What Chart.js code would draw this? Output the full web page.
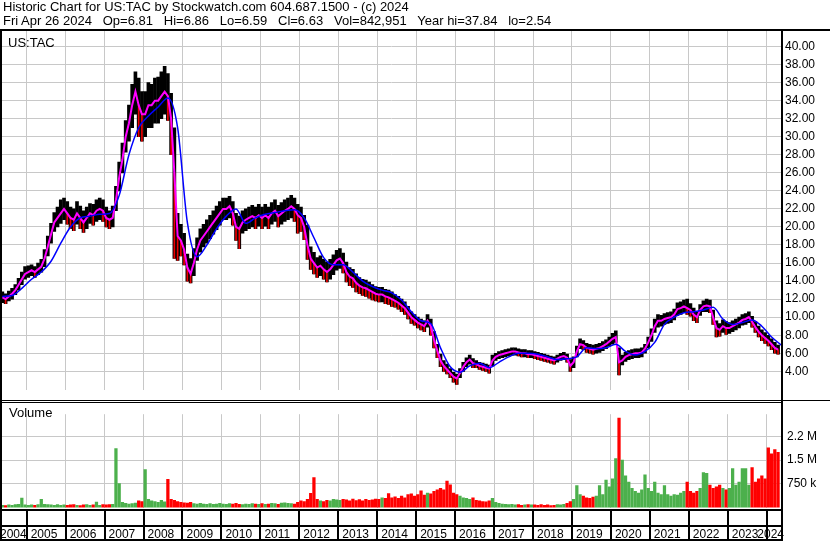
<!DOCTYPE html>
<html>
<head>
<meta charset="utf-8">
<script src="https://cdn.jsdelivr.net/npm/chart.js@4"></script>
<style>
  html, body { margin: 0; padding: 0; background: #fff; }
  #wrap { position: relative; width: 830px; height: 543px; overflow: hidden; font-family: "Liberation Sans", Arial, sans-serif; }
  .hdr { position: absolute; left: 3px; font-size: 13px; line-height: 14px; color: #000; white-space: pre; }
  #priceBox { position: absolute; left: 0; top: 0; width: 830px; height: 401px; }
  #volBox { position: absolute; left: 0; top: 401px; width: 830px; height: 142px; }
</style>
</head>
<body>
<div id="wrap">
  <div id="priceBox"><canvas id="priceChart" width="830" height="401"></canvas></div>
  <div id="volBox"><canvas id="volChart" width="830" height="142"></canvas></div>
  <div class="hdr" style="top:0px">Historic Chart for US:TAC by Stockwatch.com 604.687.1500 - (c) 2024</div>
  <div class="hdr" style="top:14px">Fri Apr 26 2024   Op=6.81   Hi=6.86   Lo=6.59   Cl=6.63   Vol=842,951   Year hi=37.84   lo=2.54</div>
</div>
<script>
// monthly bars, May 2004 .. Apr 2024
const mid = [
  12.2, 12.0, 12.3, 12.6, 13.0, 13.6, 14.2, 14.8,
  15.0, 15.2, 15.0, 15.3, 15.6, 16.5, 17.8, 19.2, 20.5, 21.0, 21.5, 22.0,
  21.5, 21.0, 20.8, 21.5, 21.0, 20.5, 21.0, 21.5, 21.3, 21.8, 22.0, 21.8,
  21.0, 20.8, 21.0, 23.0, 25.5, 27.5, 30.0, 31.5, 33.5, 35.0, 33.5, 32.5,
  32.5, 33.5, 33.5, 34.0, 34.0, 34.5, 35.0, 34.5, 32.0, 26.0, 19.0, 18.5,
  17.5, 15.5, 14.8, 16.0, 17.5, 18.5, 19.0, 19.5, 20.0, 20.5, 21.0, 21.5,
  22.0, 22.0, 22.3, 21.5, 20.0, 19.8, 20.5, 20.8, 21.0, 21.2, 21.0, 21.3,
  21.0, 21.3, 21.0, 21.5, 21.8, 21.2, 21.5, 21.8, 22.0, 22.3, 22.0, 21.3,
  21.0, 20.0, 18.0, 16.5, 16.0, 15.5, 15.7, 15.3, 15.0, 15.3, 15.8, 16.3,
  16.5, 16.0, 15.0, 14.5, 14.3, 13.8, 13.5, 13.3, 13.2, 13.0, 12.8, 12.6,
  12.5, 12.5, 12.3, 12.2, 12.0, 11.8, 11.6, 11.3, 11.0, 10.5, 10.0, 9.7,
  9.4, 9.2, 9.0, 9.6, 9.0, 7.5, 6.3, 5.2, 4.6, 4.2, 3.8, 3.4,
  3.2, 3.8, 4.5, 5.0, 5.3, 4.9, 4.8, 4.6, 4.5, 4.4, 4.3, 5.2,
  5.6, 5.8, 5.9, 6.0, 6.1, 6.2, 6.2, 6.1, 6.0, 6.0, 5.9, 5.9,
  5.8, 5.7, 5.6, 5.5, 5.4, 5.3, 5.2, 5.4, 5.6, 5.7, 5.5, 4.6,
  5.0, 6.2, 7.0, 6.9, 6.6, 6.5, 6.4, 6.5, 6.6, 6.8, 7.0, 7.3,
  7.6, 7.8, 5.0, 5.2, 5.6, 5.8, 5.9, 6.0, 6.0, 6.1, 6.5, 7.2,
  8.0, 9.0, 9.6, 9.6, 9.8, 9.9, 10.0, 10.3, 10.9, 11.0, 11.2, 11.0,
  10.8, 10.3, 10.0, 10.8, 11.2, 11.3, 11.2, 10.0, 8.8, 8.6, 9.0, 8.8,
  8.8, 9.0, 9.2, 9.4, 9.7, 9.8, 10.0, 9.5, 8.9, 8.4, 8.0, 7.7,
  7.4, 7.0, 6.6, 6.4
];
const hi = [
  12.8, 12.6, 12.9, 13.2, 13.6, 14.3, 15.0, 15.6,
  15.7, 15.8, 15.6, 16.0, 16.4, 17.5, 19.0, 20.4, 21.6, 22.2, 23.0, 23.2,
  22.8, 22.2, 22.0, 22.8, 22.3, 21.8, 22.2, 22.6, 22.5, 23.0, 23.2, 23.0,
  22.2, 21.8, 22.3, 24.5, 27.2, 29.3, 31.8, 33.5, 35.8, 37.2, 36.5, 35.0,
  35.0, 36.0, 35.8, 36.5, 36.6, 37.2, 37.8, 37.0, 34.8, 31.0, 21.5, 20.3,
  19.3, 17.0, 16.5, 17.6, 18.8, 19.8, 20.3, 20.8, 21.3, 21.8, 22.3, 22.8,
  23.2, 23.2, 23.4, 22.8, 21.5, 21.2, 21.8, 22.0, 22.2, 22.4, 22.2, 22.5,
  22.2, 22.5, 22.2, 22.7, 23.0, 22.4, 22.7, 23.0, 23.2, 23.5, 23.2, 22.5,
  22.2, 21.3, 20.2, 17.8, 17.2, 16.6, 16.8, 16.4, 16.1, 16.4, 16.9, 17.4,
  17.6, 17.1, 16.1, 15.5, 15.3, 14.8, 14.4, 14.2, 14.1, 13.9, 13.6, 13.4,
  13.3, 13.3, 13.1, 13.0, 12.8, 12.5, 12.3, 12.0, 11.7, 11.2, 10.6, 10.3,
  10.0, 9.8, 9.6, 10.3, 9.8, 8.4, 7.0, 5.9, 5.2, 4.8, 4.3, 3.9,
  3.7, 4.3, 5.0, 5.5, 5.8, 5.4, 5.2, 5.0, 4.9, 4.8, 4.7, 5.8,
  6.0, 6.2, 6.3, 6.4, 6.5, 6.6, 6.6, 6.5, 6.4, 6.4, 6.3, 6.3,
  6.2, 6.1, 6.0, 5.9, 5.8, 5.7, 5.6, 5.8, 6.0, 6.1, 5.9, 5.3,
  5.6, 6.8, 7.6, 7.4, 7.1, 7.0, 6.9, 7.0, 7.1, 7.3, 7.5, 7.8,
  8.2, 8.5, 6.6, 5.8, 6.1, 6.3, 6.4, 6.5, 6.5, 6.6, 7.0, 7.8,
  8.7, 9.8, 10.3, 10.2, 10.4, 10.5, 10.6, 10.9, 11.6, 11.7, 11.9, 12.0,
  11.5, 11.0, 10.6, 11.4, 11.8, 12.0, 11.9, 10.8, 9.6, 9.3, 9.7, 9.5,
  9.4, 9.6, 9.8, 10.0, 10.3, 10.4, 10.6, 10.1, 9.5, 9.0, 8.6, 8.3,
  8.0, 7.6, 7.2, 6.9
];
const lo = [
  11.6, 11.5, 11.8, 12.0, 12.5, 13.0, 13.6, 14.2,
  14.4, 14.6, 14.4, 14.7, 15.0, 15.6, 16.8, 18.2, 19.5, 20.0, 20.4, 20.8,
  20.3, 19.8, 19.6, 20.3, 19.8, 19.4, 19.8, 20.4, 20.2, 20.6, 20.8, 20.6,
  20.0, 19.8, 20.0, 21.8, 24.0, 26.0, 28.3, 29.5, 31.0, 32.5, 30.0, 29.5,
  30.0, 31.0, 31.0, 31.5, 31.5, 32.0, 32.5, 31.8, 28.0, 16.5, 16.3, 16.8,
  15.8, 14.0, 13.8, 14.6, 16.3, 17.2, 17.8, 18.2, 18.7, 19.2, 19.7, 20.2,
  20.8, 20.8, 21.0, 20.2, 18.5, 17.6, 19.3, 19.6, 19.8, 20.0, 19.8, 20.1,
  19.8, 20.1, 19.8, 20.3, 20.6, 20.0, 20.3, 20.6, 20.8, 21.0, 20.6, 19.3,
  19.5, 18.6, 16.4, 15.3, 14.8, 14.4, 14.6, 14.2, 13.9, 14.2, 14.7, 15.2,
  15.4, 14.9, 13.9, 13.5, 13.3, 12.8, 12.6, 12.4, 12.3, 12.1, 11.9, 11.8,
  11.7, 11.7, 11.5, 11.4, 11.2, 11.1, 10.9, 10.6, 10.3, 9.8, 9.3, 9.1,
  8.8, 8.6, 8.4, 8.9, 8.0, 6.6, 5.5, 4.5, 4.0, 3.7, 3.3, 2.8,
  2.54, 3.3, 4.0, 4.5, 4.8, 4.4, 4.4, 4.2, 4.1, 4.0, 3.8, 4.6,
  5.2, 5.4, 5.5, 5.6, 5.7, 5.8, 5.8, 5.7, 5.6, 5.6, 5.5, 5.5,
  5.4, 5.3, 5.2, 5.1, 5.0, 4.9, 4.8, 5.0, 5.2, 5.3, 5.0, 4.0,
  4.4, 5.6, 6.5, 6.4, 6.1, 6.0, 5.9, 6.0, 6.1, 6.3, 6.5, 6.8,
  7.0, 7.2, 3.6, 4.7, 5.1, 5.3, 5.4, 5.5, 5.5, 5.6, 6.0, 6.6,
  7.3, 8.3, 8.9, 9.0, 9.2, 9.3, 9.4, 9.7, 10.2, 10.3, 10.5, 10.3,
  10.1, 9.6, 9.4, 10.2, 10.6, 10.6, 10.5, 9.2, 7.8, 7.9, 8.3, 8.1,
  8.2, 8.4, 8.6, 8.8, 9.1, 9.2, 9.4, 8.9, 8.3, 7.8, 7.4, 7.1,
  6.8, 6.4, 6.0, 5.9
];
// slow average (blue), quarterly from May 2004
const slow = [
  12.3, 12.4, 13.2, 14.2, 15.0, 16.2, 18.2, 20.0, 21.0, 21.2,
  21.4, 21.5, 23.5, 28.0, 31.0, 32.3, 33.3, 34.3, 31.0, 20.5,
  16.7, 18.0, 19.8, 21.2, 22.0, 20.4, 21.0, 21.4, 21.6, 21.8,
  21.9, 21.0, 18.8, 16.6, 15.8, 15.8, 15.0, 14.0, 13.4, 13.0,
  12.7, 11.9, 10.6, 9.6, 9.3, 6.6, 4.5, 3.9, 4.6, 4.9,
  4.4, 5.0, 5.6, 6.0, 6.0, 5.9, 5.6, 5.3, 5.4, 5.6,
  6.6, 6.5, 6.6, 7.0, 6.2, 5.8, 6.2, 7.2, 9.2, 10.0,
  10.5, 10.6, 10.8, 11.1, 9.8, 9.2, 9.4, 9.7, 9.0, 7.8,
  6.9
];
// volume in thousands, monthly
const vol = [
  60, 50, 70, 60, 80, 90, 290, 70,
  60, 70, 60, 80, 250, 90, 80, 70, 60, 80, 60, 70,
  60, 70, 80, 60, 50, 70, 80, 60, 70, 160, 60, 80,
  70, 80, 90, 1870, 750, 150, 120, 100, 110, 130, 200, 180,
  1200, 250, 200, 180, 150, 220, 170, 890, 250, 220, 180, 150,
  140, 130, 150, 110, 100, 120, 100, 90, 110, 90, 100, 120,
  100, 90, 110, 100, 120, 90, 80, 100, 90, 110, 100, 90,
  110, 90, 100, 120, 110, 90, 130, 140, 120, 110, 100, 150,
  200, 180, 250, 440, 940, 250, 200, 180, 220, 200, 250, 230,
  220, 250, 230, 200, 260, 210, 240, 200, 250, 220, 230, 260,
  250, 300, 280, 430, 300, 330, 280, 350, 300, 400, 420, 350,
  400, 520, 380, 450, 420, 500, 550, 600, 550, 830, 710, 450,
  400, 350, 300, 280, 250, 300, 220, 200, 180, 170, 200, 280,
  150, 120, 100, 90, 80, 90, 70, 80, 60, 70, 80, 70,
  70, 60, 80, 60, 70, 50, 60, 80, 70, 90, 120, 180,
  250, 690, 400, 350, 300, 280, 320, 350, 690, 400, 860, 650,
  900, 1550, 2840, 1500, 1000, 800, 600, 500, 450, 550, 1030, 600,
  500, 800, 450, 400, 690, 400, 350, 400, 380, 450, 500, 800,
  500, 450, 500, 600, 1100, 1080, 700, 600, 650, 700, 600, 550,
  600, 1230, 700, 800, 1230, 1230, 700, 1260, 800, 900, 1000, 900,
  1890, 1700, 1840, 1750
];
const years = [2005, 2006, 2007, 2008, 2009, 2010, 2011, 2012, 2013, 2014,
  2015, 2016, 2017, 2018, 2019, 2020, 2021, 2022, 2023, 2024];
const yearLabels = ['2004', '2005', '2006', '2007', '2008', '2009', '2010', '2011', '2012', '2013',
  '2014', '2015', '2016', '2017', '2018', '2019', '2020', '2021', '2022', '2023', '2024'];
const priceTicks = [4, 6, 8, 10, 12, 14, 16, 18, 20, 22, 24, 26, 28, 30, 32, 34, 36, 38, 40];
const volTicks = [750000, 1500000, 2250000];

const xMin = 2004.366, xMax = 2024.367;
const months = mid.map((v, i) => 2004 + (4.5 + i) / 12);
const FONT = '"Liberation Sans", Arial, sans-serif';

const up = mid.map((v, i) => i === 0 || v >= mid[i - 1]);

const xScale = {
  type: 'linear', min: xMin, max: xMax, offset: false,
  afterBuildTicks: s => { s.ticks = years.map(v => ({ value: v })); },
  afterFit: s => { s.height = 0; },
  ticks: { display: false },
  grid: { color: '#c8c8c8', drawTicks: false, offset: false },
  border: { display: false }
};

const priceFrame = {
  id: 'priceFrame',
  afterDraw(chart) {
    const { ctx, chartArea: a } = chart;
    ctx.save();
    ctx.fillStyle = '#000';
    ctx.fillRect(0, 29, 830, 2);
    ctx.fillRect(0, 29, 2, chart.height - 29);
    ctx.fillRect(a.right, 29, 2, chart.height - 29);
    ctx.fillRect(0, 400, 830, 1);
    ctx.font = '13px ' + FONT;
    ctx.fillText('US:TAC', 8, 47);
    ctx.restore();
  }
};

const volFrame = {
  id: 'volFrame',
  afterDraw(chart) {
    const { ctx, chartArea: a } = chart;
    const xs = chart.scales.x;
    ctx.save();
    ctx.fillStyle = '#000';
    ctx.fillRect(0, 1, a.right, 1);
    ctx.fillRect(0, 0, 2, 140);
    ctx.fillRect(a.right, 0, 2, 140);
    ctx.fillRect(0, a.bottom + 1, a.right, 2);
    ctx.fillRect(0, 124, a.right, 2);
    ctx.fillRect(0, 138, a.right, 2);
    years.forEach(y => {
      const px = Math.round(xs.getPixelForValue(y));
      ctx.fillRect(px - 1, a.bottom + 1, 2, 139 - a.bottom);
    });
    ctx.font = '12px ' + FONT;
    yearLabels.forEach((lab, i) => {
      const y0 = 2004 + i;
      const s = Math.max(xs.getPixelForValue(y0), a.left);
      const e = Math.min(xs.getPixelForValue(y0 + 1), a.right);
      const w = ctx.measureText(lab).width;
      if (e - s >= w + 4) {
        ctx.textAlign = 'left';
        ctx.fillText(lab, xs.getPixelForValue(y0) + 4, 137);
      } else {
        ctx.textAlign = 'right';
        ctx.fillText(lab, e + (i === 0 ? 0 : 3), 137);
      }
    });
    ctx.textAlign = 'left';
    ctx.font = '13px ' + FONT;
    ctx.fillText('Volume', 9, 16);
    ctx.restore();
  }
};

new Chart(document.getElementById('priceChart'), {
  type: 'bar',
  data: {
    datasets: [
      {
        type: 'line', order: 1,
        data: slow.map((v, k) => ({ x: 2004.375 + k * 0.25, y: v })),
        borderColor: '#0000ff', borderWidth: 1.5, pointRadius: 0,
        cubicInterpolationMode: 'monotone'
      },
      {
        type: 'line', order: 2,
        data: mid.map((v, i) => ({ x: months[i], y: v })),
        borderColor: '#ff00ff', borderWidth: 2, pointRadius: 0
      },
      {
        type: 'bar', order: 3,
        data: mid.map((v, i) => ({ x: months[i], y: up[i] ? null : [lo[i], v] })),
        backgroundColor: '#ee0000',
        barThickness: 1
      },
      {
        type: 'bar', order: 4,
        data: mid.map((v, i) => ({ x: months[i], y: [lo[i], hi[i]] })),
        backgroundColor: '#000000',
        barThickness: 3
      }
    ]
  },
  options: {
    responsive: false, animation: false, devicePixelRatio: 1,
    layout: { padding: { top: 31, left: 2, right: 0, bottom: 1 } },
    plugins: { legend: { display: false }, tooltip: { enabled: false } },
    datasets: { bar: { grouped: false } },
    scales: {
      x: xScale,
      y: {
        position: 'right', min: 1.95, max: 41.72,
        afterBuildTicks: s => { s.ticks = priceTicks.map(v => ({ value: v })); },
        afterFit: s => { s.width = 49; },
        ticks: { callback: v => v.toFixed(2), padding: 4, autoSkip: false, color: '#000', font: { size: 12, family: FONT } },
        grid: { color: '#c8c8c8', drawTicks: false },
        border: { display: false }
      }
    }
  },
  plugins: [priceFrame]
});

new Chart(document.getElementById('volChart'), {
  type: 'bar',
  data: {
    datasets: [{
      data: vol.map((v, i) => ({ x: months[i], y: v * 1000 })),
      backgroundColor: up.map(u => u ? '#4cb04c' : '#ff0000'),
      barThickness: 2.6
    }]
  },
  options: {
    responsive: false, animation: false, devicePixelRatio: 1,
    layout: { padding: { top: 2, left: 2, right: 0, bottom: 35 } },
    plugins: { legend: { display: false }, tooltip: { enabled: false } },
    scales: {
      x: xScale,
      y: {
        position: 'right', min: -28500, max: 2966000,
        afterBuildTicks: s => { s.ticks = volTicks.map(v => ({ value: v })); },
        afterFit: s => { s.width = 49; },
        ticks: {
          callback: v => v >= 1e6 ? (Math.floor(v / 1e5) / 10) + ' M' : (v / 1000) + ' k',
          padding: 6, autoSkip: false, color: '#000', font: { size: 12, family: FONT }
        },
        grid: { color: '#c8c8c8', drawTicks: false },
        border: { display: false }
      }
    }
  },
  plugins: [volFrame]
});
</script>
</body>
</html>
